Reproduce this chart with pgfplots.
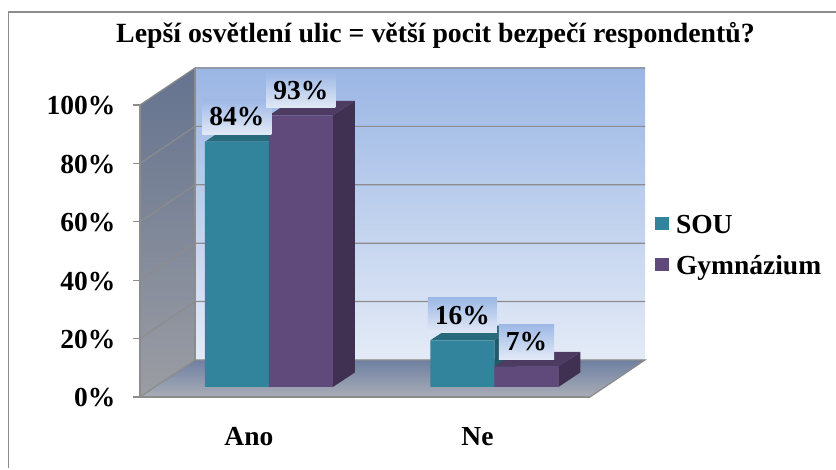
\documentclass[border=0pt]{standalone}
\usepackage{fontspec}
\setmainfont{Liberation Serif}
\usepackage{pgfplots}
\pgfplotsset{compat=1.18}
\definecolor{sou}{HTML}{31849B}
\definecolor{soutop}{HTML}{276A7C}
\definecolor{souside}{HTML}{215A69}
\definecolor{gym}{HTML}{604A7B}
\definecolor{gymtop}{HTML}{4D3B62}
\definecolor{gymside}{HTML}{403152}
\definecolor{gridg}{HTML}{8C8C8C}
\definecolor{wallT}{HTML}{9AB6E4}
\definecolor{wallB}{HTML}{E4EBF7}
\definecolor{sideT}{HTML}{64738F}
\definecolor{sideB}{HTML}{9B9DA3}
\definecolor{floorT}{HTML}{6E80A2}
\definecolor{floorB}{HTML}{AAADB7}
\definecolor{boxT}{HTML}{9DB8E6}
\definecolor{boxB}{HTML}{E2E9F6}
\newcommand{\lab}{\fontsize{27.5bp}{29bp}\selectfont\bfseries}
\pgfplotsset{lblstyle/.style={/pgf/number format/assume math mode=true,
  nodes near coords={\pgfmathprintnumber{\pgfplotspointmeta}\%},
  every node near coord/.append style={anchor=center,yshift=25bp,xshift=#1,font=\lab,text=black,
    top color=boxT,bottom color=boxB,inner xsep=7bp,inner ysep=0bp,minimum height=35bp}}}
\begin{document}
\begin{tikzpicture}[x=1bp,y=1bp]
\useasboundingbox[fill=white] (0,0) rectangle (836,470);
\draw[gridg,line width=1.6bp] (8.5,2) -- (8.5,458) -- (836,458);
% walls axis
\begin{axis}[at={(140bp,73bp)},anchor=south west,scale only axis,width=450bp,height=292bp,
  xmin=0,xmax=2,ymin=0,ymax=100,clip=false,axis on top=true,
  axis x line*=bottom,axis y line*=left,axis line style={-,draw=gridg,line width=1.2bp},
  xtick={0.484,1.5},xticklabels={Ano,Ne},x tick label style={font=\lab,yshift=-20bp},
  major x tick style={draw=none},
  extra x ticks={0,1,2},extra x tick labels={},extra x tick style={tick style={draw=gridg,line width=1.2bp},major tick length=9bp},
  ytick={0,20,40,60,80,100},yticklabel={\pgfmathprintnumber{\tick}\%},
  /pgf/number format/assume math mode=true,
  y tick label style={font=\lab,xshift=-14bp,yshift=-1bp},
  tick align=outside,major tick length=7bp,ytick style={draw=gridg,line width=1.2bp},
]
\addplot[draw=none,forget plot,top color=wallT,bottom color=wallB] coordinates {(0.2444,12.67)(2.2444,12.67)(2.2444,112.67)(0.2444,112.67)(0.2444,12.67)};
\addplot[draw=none,forget plot,top color=sideT,bottom color=sideB] coordinates {(0,0)(0.2444,12.67)(0.2444,112.67)(0,100)(0,0)};
\addplot[draw=none,forget plot,top color=floorT,bottom color=floorB] coordinates {(0,0)(2,0)(2.2444,12.67)(0.2444,12.67)(0,0)};
\pgfplotsinvokeforeach{20,40,60,80,100}{
  \addplot[gridg,line width=1.2bp,forget plot] coordinates {(0,#1)(0.2444,{#1+12.67})(2.2444,{#1+12.67})};
}
\addplot[gridg,line width=1.2bp,forget plot] coordinates {(0,0)(0.2444,12.67)(2.2444,12.67)(2,0)};
\addplot[gridg,line width=1.2bp,forget plot] coordinates {(0.2444,12.67)(0.2444,112.67)};
\end{axis}
% bars axis
\begin{axis}[at={(140bp,83bp)},anchor=south west,scale only axis,width=450bp,height=292bp,
  xmin=-0.572,xmax=1.424,ymin=0,ymax=100,clip=false,hide axis,
  legend cell align=left,
  legend image code/.code={\fill[#1] (0bp,-5bp) rectangle (14bp,8bp);},
  legend style={at={(1.144,0.597)},anchor=north west,draw=none,fill=none,font=\lab,row sep=17bp,inner sep=0pt,
    nodes={inner xsep=3bp,inner ysep=2bp},column sep=4bp},
]
% SOU depth faces
\addplot[draw=none,fill=soutop,forget plot] coordinates {(-0.2838,84)(-0.1862,89)(0.0976,89)(0,84)(-0.2838,84)};
\addplot[draw=none,fill=soutop,forget plot] coordinates {(0.7162,16)(0.8138,21)(1.0976,21)(1,16)(0.7162,16)};
\addplot[draw=none,fill=souside,forget plot] coordinates {(1,0)(1,16)(1.0976,21)(1.0976,5)(1,0)};
\addplot[ybar,bar width=64bp,bar shift=-32bp,draw=none,fill=sou,lblstyle=-32bp] coordinates {(0,84)(1,16)};
\addlegendentry{SOU}
% Gymnazium depth faces
\addplot[draw=none,fill=gymtop,forget plot] coordinates {(0,93)(0.0976,98)(0.3814,98)(0.2838,93)(0,93)};
\addplot[draw=none,fill=gymtop,forget plot] coordinates {(1,7)(1.0976,12)(1.3814,12)(1.2838,7)(1,7)};
\addplot[draw=none,fill=gymside,forget plot] coordinates {(0.2838,0)(0.2838,93)(0.3814,98)(0.3814,5)(0.2838,0)};
\addplot[draw=none,fill=gymside,forget plot] coordinates {(1.2838,0)(1.2838,7)(1.3814,12)(1.3814,5)(1.2838,0)};
\addplot[ybar,bar width=64bp,bar shift=32bp,draw=none,fill=gym,lblstyle=32bp] coordinates {(0,93)(1,7)};
\addlegendentry{Gymnázium}
\end{axis}
\node[font=\bfseries\fontsize{27.8bp}{29bp}\selectfont,anchor=center] at (435.5,435) {Lepší osvětlení ulic = větší pocit bezpečí respondentů?};
\end{tikzpicture}
\end{document}
